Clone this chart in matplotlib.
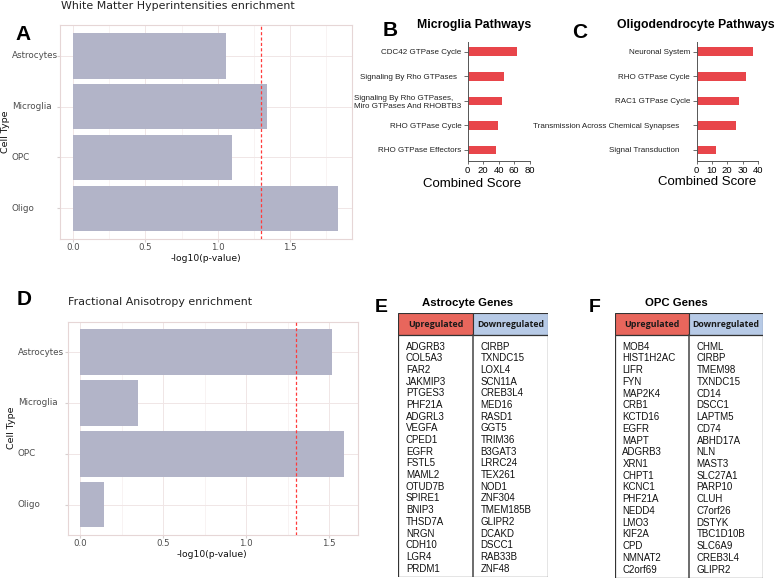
import numpy as np
import matplotlib.pyplot as plt
from matplotlib.transforms import blended_transform_factory
from matplotlib.patches import Rectangle

W, H = 776, 580

cell_types = ['Astrocytes', 'Microglia', 'OPC', 'Oligo']
wmh_logp = [1.06, 1.34, 1.10, 1.83]
fa_logp = [1.52, 0.35, 1.59, 0.145]
p_cut = 0.05

micro_paths = ['CDC42 GTPase Cycle', 'Signaling By Rho GTPases  ',
               'Signaling By Rho GTPases,\nMiro GTPases And RHOBTB3',
               'RHO GTPase Cycle', 'RHO GTPase Effectors']
micro_scores = [63, 47, 44, 39.5, 36]

oligo_paths = ['Neuronal System', 'RHO GTPase Cycle', 'RAC1 GTPase Cycle',
               'Transmission Across Chemical Synapses     ', 'Signal Transduction     ']
oligo_scores = [36.8, 32.5, 27.8, 25.6, 12.8]

astro_up = ['ADGRB3', 'COL5A3', 'FAR2', 'JAKMIP3', 'PTGES3', 'PHF21A', 'ADGRL3', 'VEGFA',
            'CPED1', 'EGFR', 'FSTL5', 'MAML2', 'OTUD7B', 'SPIRE1', 'BNIP3', 'THSD7A',
            'NRGN', 'CDH10', 'LGR4', 'PRDM1']
astro_down = ['CIRBP', 'TXNDC15', 'LOXL4', 'SCN11A', 'CREB3L4', 'MED16', 'RASD1', 'GGT5',
              'TRIM36', 'B3GAT3', 'LRRC24', 'TEX261', 'NOD1', 'ZNF304', 'TMEM185B', 'GLIPR2',
              'DCAKD', 'DSCC1', 'RAB33B', 'ZNF48']
opc_up = ['MOB4', 'HIST1H2AC', 'LIFR', 'FYN', 'MAP2K4', 'CRB1', 'KCTD16', 'EGFR', 'MAPT',
          'ADGRB3', 'XRN1', 'CHPT1', 'KCNC1', 'PHF21A', 'NEDD4', 'LMO3', 'KIF2A', 'CPD',
          'NMNAT2', 'C2orf69']
opc_down = ['CHML', 'CIRBP', 'TMEM98', 'TXNDC15', 'CD14', 'DSCC1', 'LAPTM5', 'CD74',
            'ABHD17A', 'NLN', 'MAST3', 'SLC27A1', 'PARP10', 'CLUH', 'C7orf26', 'DSTYK',
            'TBC1D10B', 'SLC6A9', 'CREB3L4', 'GLIPR2']

ARIAL = 'Liberation Sans'
fig = plt.figure(figsize=(W / 100, H / 100), dpi=100)


def box(l, t, r, b):
    return [l / W, 1 - b / H, (r - l) / W, (b - t) / H]


def ftext(x, y, s, **kw):
    fig.text(x / W, 1 - y / H, s, **kw)


def enrich(rect, values, xlim, lab_x):
    ax = fig.add_axes(box(*rect))
    ypos = np.arange(len(cell_types))[::-1] + 1
    ax.barh(ypos, values, height=0.9, color='#B2B4C8', zorder=2)
    ax.axvline(-np.log10(p_cut), color='#FF3B3B', ls=(0, (2.5, 1.8)), lw=0.9, zorder=3)
    ax.set_xlim(*xlim)
    ax.set_ylim(0.4, 4.6)
    ax.set_xticks([0, 0.5, 1.0, 1.5])
    ax.set_xticklabels(['0.0', '0.5', '1.0', '1.5'])
    ax.set_xticks(np.arange(0.25, xlim[1], 0.5), minor=True)
    ax.set_yticks(ypos)
    ax.set_yticklabels([])
    ax.grid(which='major', color='#F0E6E6', lw=0.7, zorder=0)
    ax.grid(which='minor', axis='x', color='#F5EEEE', lw=0.5, zorder=0)
    ax.tick_params(which='major', length=2, color='#D8D0D0', labelsize=6.2,
                   labelcolor='#4D4D4D', pad=0.8)
    ax.tick_params(which='minor', length=0)
    for sp in ax.spines.values():
        sp.set_color('#E6D6D6')
        sp.set_linewidth(0.8)
    tr = blended_transform_factory(fig.transFigure, ax.transData)
    for yy, name in zip(ypos, cell_types):
        ax.text(lab_x / W, yy, name, transform=tr, ha='left', va='center',
                fontsize=6.3, color='#4D4D4D')
    return ax


def pathways(rect, names, scores, xmax, step):
    ax = fig.add_axes(box(*rect))
    y = np.arange(len(names))
    ax.barh(y, scores, height=0.35, color='#E8454A')
    ax.set_xlim(0, xmax)
    ax.set_ylim(4.43, -0.41)
    ax.set_xticks(np.arange(0, xmax + 1, step))
    ax.set_yticks(y)
    ax.set_yticklabels(names, fontsize=5.8, family=ARIAL, color='#222222')
    for t in ax.get_yticklabels():
        t.set_multialignment('left')
    for t in ax.get_xticklabels():
        t.set_family(ARIAL)
    ax.tick_params(axis='x', labelsize=6.8, length=2.5, width=0.6, pad=1.5, color='#555555')
    ax.tick_params(axis='y', length=3, width=0.6, pad=1.5, color='#555555')
    ax.spines['top'].set_visible(False)
    ax.spines['right'].set_visible(False)
    for s in ('left', 'bottom'):
        ax.spines[s].set_color('#555555')
        ax.spines[s].set_linewidth(0.7)
    return ax


def gene_table(rect, up, down):
    ax = fig.add_axes(box(*rect))
    n = len(up)
    head = 1.88
    bottom = n + 0.7
    ax.set_xlim(0, 2)
    ax.set_ylim(bottom, -head)
    ax.axis('off')
    ax.add_patch(Rectangle((0, -head), 1, head, facecolor='#E8665C', edgecolor='#333333', lw=0.8))
    ax.add_patch(Rectangle((1, -head), 1, head, facecolor='#B7CAE6', edgecolor='#333333', lw=0.8))
    ax.add_patch(Rectangle((0, 0), 2, bottom, facecolor='white', edgecolor='#333333', lw=0.9))
    ax.plot([1, 1], [0, bottom], color='#444444', lw=1.1)
    ax.text(0.5, -head / 2, 'Upregulated', ha='center', va='center', fontsize=6.4,
            fontweight='bold', family='Open Sans', color='#1A1A1A')
    ax.text(1.5, -head / 2, 'Downregulated', ha='center', va='center', fontsize=6.3,
            fontweight='bold', family='Open Sans', color='#1A1A1A')
    for i, (a, b) in enumerate(zip(up, down)):
        ax.text(0.1, i + 0.96, a, ha='left', va='center', fontsize=7, family=ARIAL, color='#111111')
        ax.text(1.1, i + 0.96, b, ha='left', va='center', fontsize=7, family=ARIAL, color='#111111')
    return ax


# A
enrich((60, 25, 352, 239), wmh_logp, (-0.092, 1.93), 12)
ftext(60.7, 9, 'White Matter Hyperintensities enrichment', fontsize=7.9, color='#222222', va='baseline')
ftext(206, 258.5, '-log10(p-value)', fontsize=6.7, ha='center', va='center', color='#111111')
ftext(5, 132, 'Cell Type', fontsize=6.8, rotation=90, ha='center', va='center', color='#111111')
ftext(15, 40, 'A', fontsize=15, fontweight='bold', family=ARIAL, va='baseline')

# D
enrich((67.7, 321.7, 358.3, 535), fa_logp, (-0.074, 1.676), 18)
ftext(67.7, 305, 'Fractional Anisotropy enrichment', fontsize=7.9, color='#222222', va='baseline')
ftext(212, 554.5, '-log10(p-value)', fontsize=6.7, ha='center', va='center', color='#111111')
ftext(11.7, 428, 'Cell Type', fontsize=6.8, rotation=90, ha='center', va='center', color='#111111')
ftext(17, 305, 'D', fontsize=15, fontweight='bold', family=ARIAL, va='baseline')

# B
pathways((467.7, 41.7, 529.7, 160.5), micro_paths, micro_scores, 80, 20)
ftext(473.7, 25, 'Microglia Pathways', fontsize=8.8, fontweight='bold', family=ARIAL,
      ha='center', va='center')
ftext(471.7, 184, 'Combined Score', fontsize=9.5, family=ARIAL, ha='center', va='center')
ftext(383, 36, 'B', fontsize=15, fontweight='bold', family=ARIAL, va='baseline')

# C
pathways((696.5, 41.7, 758, 160.5), oligo_paths, oligo_scores, 40, 10)
ftext(695.5, 25, 'Oligodendrocyte Pathways', fontsize=8.8, fontweight='bold', family=ARIAL,
      ha='center', va='center')
ftext(706.7, 182, 'Combined Score', fontsize=9.5, family=ARIAL, ha='center', va='center')
ftext(572, 38, 'C', fontsize=15, fontweight='bold', family=ARIAL, va='baseline')

# E
gene_table((398.5, 313.3, 547.7, 577.3), astro_up, astro_down)
ftext(468, 303, 'Astrocyte Genes', fontsize=8.2, fontweight='bold', family=ARIAL,
      ha='center', va='center')
ftext(375, 311.7, 'E', fontsize=14, fontweight='bold', family=ARIAL, va='baseline')

# F
gene_table((615, 313.3, 763.3, 578.3), opc_up, opc_down)
ftext(676.7, 303, 'OPC Genes', fontsize=8.2, fontweight='bold', family=ARIAL,
      ha='center', va='center')
ftext(588.3, 312, 'F', fontsize=14, fontweight='bold', family=ARIAL, va='baseline')

fig.savefig('out.png', dpi=100)
